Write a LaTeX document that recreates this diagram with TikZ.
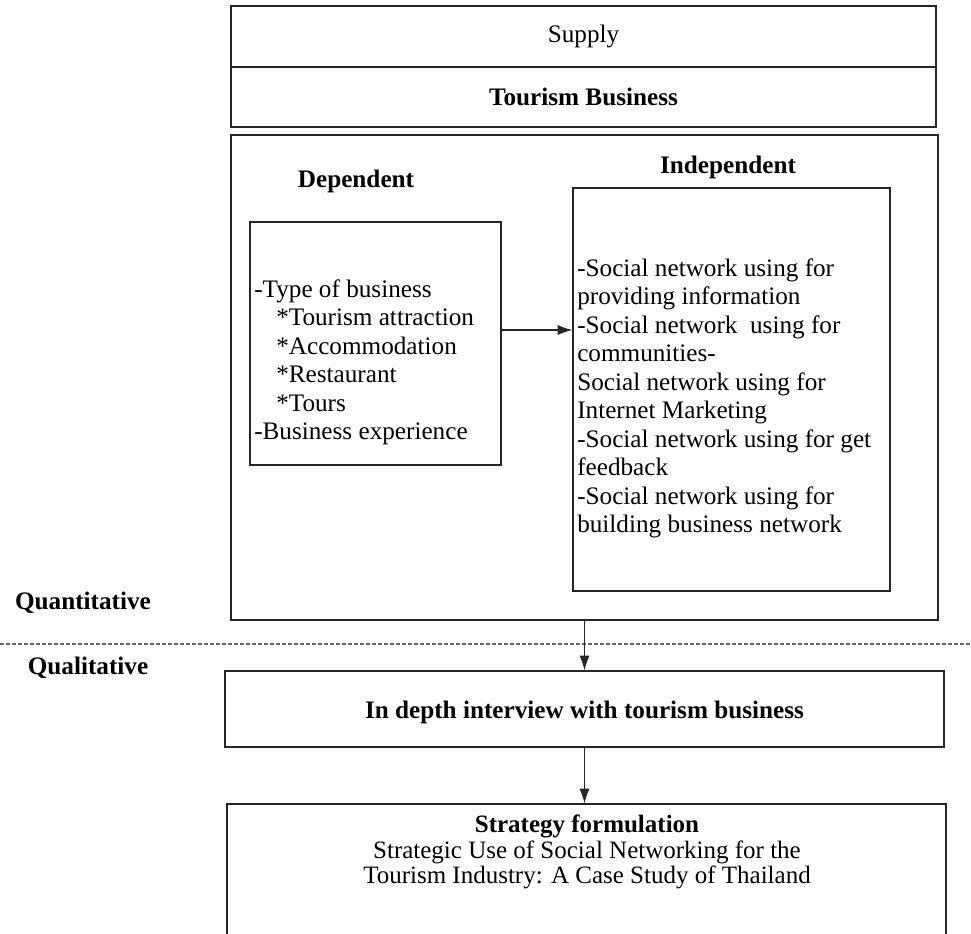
\documentclass[tikz,border=0pt]{standalone}
\usepackage{fontspec}
\setmainfont{Liberation Serif}
\usetikzlibrary{arrows.meta,fit}
\begin{document}
\begin{tikzpicture}[x=0.75pt,y=-0.75pt,
  box/.style={draw=black!85, line width=0.9pt, inner sep=0pt, rectangle},
  txt/.style={font=\fontsize{18.9}{21.4}\selectfont, inner sep=0pt},
  btxt/.style={font=\fontsize{18.9}{21.4}\selectfont\bfseries, inner sep=0pt},
  stxt/.style={font=\fontsize{18.75}{19}\selectfont, inner sep=0pt},
  arr/.style={draw=black!85, line width=0.8pt, -{Latex[length=11pt,width=7.5pt]}},
  divider/.style={draw=black!60, line width=0.8pt, dash pattern=on 3pt off 1.5pt}
]
\useasboundingbox (0,0) rectangle (971,933);

% top boxes
\node[box, fit={(231,6)(936,67)}] (supply) {};
\node[txt] (supplytxt) at (supply.center) {Supply};
\node[box, fit={(231,67)(936,127)}] (tb) {};
\node[btxt] (tbtxt) at (tb.center) {Tourism Business};

% big frame
\node[box, fit={(231,135)(938,620)}] (big) {};

% headings
\node[btxt] (deph) at (356,181) {Dependent};
\node[btxt] (indh) at (728,167) {Independent};

% dependent box
\node[box, fit={(250,222)(501,465)}] (dep) {};
\node[txt, anchor=north west, align=left] (deptxt) at (254,279) {%
-Type of business\\
\hspace*{16.5pt}*Tourism attraction\\
\hspace*{16.5pt}*Accommodation\\
\hspace*{16.5pt}*Restaurant\\
\hspace*{16.5pt}*Tours\\
-Business experience};

% independent box
\node[box, fit={(573,188)(890,591)}] (ind) {};
\node[txt, anchor=north west, align=left] (indtxt) at (577,258) {%
-Social network using for\\
providing information\\
-Social network \ using for\\
communities-\\
Social network using for\\
Internet Marketing\\
-Social network using for get\\
feedback\\
-Social network using for\\
building business network};

\coordinate (ay) at (0,330);
\draw[arr] (dep.east |- ay) -- (ind.west |- ay);

% side labels
\node[btxt] (quant) at (83,603) {Quantitative};
\node[btxt] (qual) at (88,668) {Qualitative};

% divider
\coordinate (dl) at (0,644);
\coordinate (dr) at (971,644);
\draw[divider] (dl) -- (dr);

% interview
\node[box, fit={(225,671)(944,747)}] (interview) {};
\node[btxt] (interviewtxt) at ([yshift=-2.5pt]interview.center) {In depth interview with tourism business};
\draw[arr] (big.south) -- (big.south |- interview.north);

% strategy
\node[box, fit={(227,804)(946,990)}] (strat) {};
\node[stxt, anchor=north, align=center] (strattxt) at (587,815) {%
\textbf{Strategy formulation}\\
Strategic Use of Social Networking for the\\
Tourism Industry: A Case Study of Thailand};
\draw[arr] (interview.south) -- (interview.south |- strat.north);
\end{tikzpicture}
\end{document}
